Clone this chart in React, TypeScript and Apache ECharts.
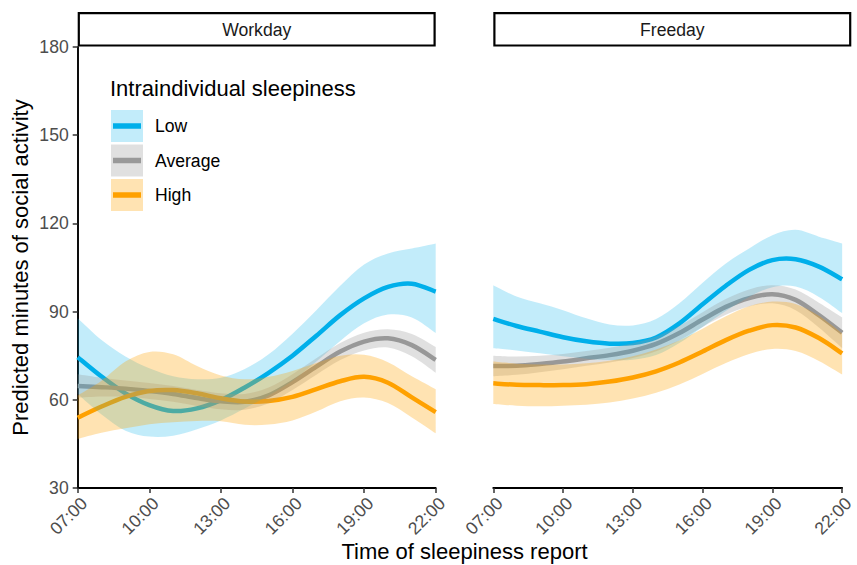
import React, { useEffect, useRef } from "react";
import * as echarts from "echarts";

const hours = [7, 8, 9, 10, 11, 12, 13, 14, 15, 16, 17, 18, 19, 20, 21, 22];
const xTicks = [7, 10, 13, 16, 19, 22];
const yTicks = [30, 60, 90, 120, 150, 180];
const panels = ["Workday", "Freeday"];
const groups = ["Low", "Average", "High"];

// Workday
const wLowMid = [74.5, 67.9, 62.2, 58.2, 56.2, 57.1, 59.9, 64.2, 69.2, 75.0, 81.8, 88.8, 94.5, 98.4, 99.5, 96.8];
const wLowHi = [87.7, 80.3, 74.7, 70.7, 68.0, 67.0, 67.5, 70.5, 75.5, 82.5, 90.5, 98.8, 106.0, 109.8, 111.5, 113.2];
const wLowLo = [62.0, 55.0, 49.5, 47.5, 47.8, 50.0, 53.0, 57.0, 61.5, 66.5, 73.0, 80.0, 86.0, 89.0, 88.0, 82.7];
const wAvgMid = [64.7, 64.3, 63.8, 63.0, 62.0, 60.6, 59.5, 59.3, 61.5, 66.0, 71.3, 76.4, 79.8, 80.9, 78.6, 73.6];
const wAvgHi = [68.7, 67.5, 66.6, 65.7, 64.7, 63.3, 62.2, 62.0, 64.2, 68.7, 74.1, 79.3, 82.8, 84.0, 82.4, 78.0];
const wAvgLo = [60.7, 61.1, 61.0, 60.3, 59.3, 57.9, 56.8, 56.6, 58.8, 63.3, 68.5, 73.5, 76.8, 77.8, 74.8, 69.2];
const wHighMid = [53.9, 57.7, 61.0, 63.0, 63.3, 62.2, 60.5, 59.4, 59.6, 61.0, 63.6, 66.3, 67.8, 65.8, 60.8, 55.8];
const wHighHi = [61.5, 66.5, 73.0, 76.3, 75.5, 71.5, 68.3, 67.0, 67.8, 69.8, 72.5, 75.0, 75.3, 72.8, 68.0, 63.6];
const wHighLo = [46.7, 48.8, 50.3, 51.7, 52.4, 52.8, 52.7, 51.5, 51.6, 53.0, 56.0, 59.5, 60.8, 58.9, 54.0, 48.6];

// Freeday
const fLowMid = [87.5, 85.1, 83.2, 81.3, 79.9, 79.1, 79.3, 81.2, 86.0, 92.5, 98.8, 104.2, 107.5, 107.8, 105.3, 101.0];
const fLowHi = [99.0, 95.1, 92.8, 90.5, 87.7, 85.6, 85.3, 87.5, 92.8, 99.8, 106.4, 111.5, 116.0, 117.8, 115.5, 113.2];
const fLowLo = [77.5, 76.8, 75.8, 74.8, 74.0, 73.5, 73.6, 75.2, 79.3, 84.8, 90.2, 95.0, 98.3, 98.5, 95.0, 89.5];
const fAvgMid = [71.5, 71.6, 72.2, 73.0, 74.1, 75.2, 76.7, 79.0, 82.7, 87.3, 91.6, 94.6, 95.9, 94.0, 88.8, 82.8];
const fAvgHi = [75.0, 74.7, 75.0, 75.6, 76.6, 77.7, 79.2, 81.5, 85.2, 89.8, 94.3, 97.5, 99.0, 97.5, 93.0, 88.0];
const fAvgLo = [68.0, 68.5, 69.4, 70.4, 71.6, 72.7, 74.2, 76.5, 80.2, 84.8, 88.9, 91.7, 92.8, 90.5, 84.6, 77.6];
const fHighMid = [65.6, 65.1, 65.0, 65.0, 65.3, 66.2, 67.6, 69.7, 72.7, 76.4, 80.3, 83.5, 85.4, 84.6, 81.0, 75.8];
const fHighHi = [73.0, 72.3, 72.0, 72.0, 72.4, 73.3, 74.8, 77.1, 80.2, 84.2, 88.4, 91.8, 93.4, 92.6, 88.6, 82.6];
const fHighLo = [58.6, 58.0, 57.8, 58.0, 58.3, 59.1, 60.4, 62.4, 65.2, 68.8, 72.5, 75.6, 77.3, 76.6, 73.2, 68.6];

const panelData = [
  [
    { mid: wLowMid, hi: wLowHi, lo: wLowLo },
    { mid: wAvgMid, hi: wAvgHi, lo: wAvgLo },
    { mid: wHighMid, hi: wHighHi, lo: wHighLo },
  ],
  [
    { mid: fLowMid, hi: fLowHi, lo: fLowLo },
    { mid: fAvgMid, hi: fAvgHi, lo: fAvgLo },
    { mid: fHighMid, hi: fHighHi, lo: fHighLo },
  ],
];

const lineColors = ["#00AFEA", "#999999", "#FFA100"];
const bandColors = ["rgba(0,175,234,0.24)", "rgba(153,153,153,0.3)", "rgba(255,161,0,0.3)"];

const FONT = "'Liberation Sans', Arial, Helvetica, sans-serif";
const PL = [77.7, 493.3];
const PW = 358;
const TOP = 47;
const H = 441;

const fmt = (v: number) => (v < 10 ? "0" + v : "" + v) + ":00";

// smooth cubic path through pixel points (Catmull-Rom as Bezier)
function curveSegs(pts: number[][], start: boolean): string {
  let d = start ? `M${pts[0][0]},${pts[0][1]}` : `L${pts[0][0]},${pts[0][1]}`;
  const n = pts.length;
  for (let i = 0; i < n - 1; i++) {
    const p0 = pts[Math.max(0, i - 1)];
    const p1 = pts[i];
    const p2 = pts[i + 1];
    const p3 = pts[Math.min(n - 1, i + 2)];
    const c1x = p1[0] + (p2[0] - p0[0]) / 6;
    const c1y = p1[1] + (p2[1] - p0[1]) / 6;
    const c2x = p2[0] - (p3[0] - p1[0]) / 6;
    const c2y = p2[1] - (p3[1] - p1[1]) / 6;
    d += ` C${c1x},${c1y} ${c2x},${c2y} ${p2[0]},${p2[1]}`;
  }
  return d;
}

export default function App() {
  const ref = useRef<HTMLDivElement>(null);
  useEffect(() => {
    if (!ref.current) return;
    const chart = echarts.init(ref.current, undefined, { renderer: "svg" });
    const series: any[] = [];
    // lines first (underneath), then ribbons on top
    panelData.forEach((pd, p) => {
      pd.forEach((g, gi) => {
        series.push({
          type: "custom",
          name: groups[gi],
          xAxisIndex: p,
          yAxisIndex: p,
          data: hours.map((h, i) => [h, g.mid[i]]),
          encode: { x: 0, y: 1 },
          z: 2,
          renderItem: (params: any, api: any) => {
            if (params.dataIndex !== 0) return null;
            const pts = hours.map((h, i) => api.coord([h, g.mid[i]]));
            return {
              type: "path",
              shape: { pathData: curveSegs(pts, true) },
              style: { fill: "none", stroke: lineColors[gi], lineWidth: 4.5 },
            };
          },
        });
      });
    });
    panelData.forEach((pd, p) => {
      pd.forEach((g, gi) => {
        series.push({
          type: "custom",
          xAxisIndex: p,
          yAxisIndex: p,
          data: hours.map((h, i) => [h, g.lo[i], g.hi[i]]),
          encode: { x: 0, y: [1, 2] },
          z: 3,
          renderItem: (params: any, api: any) => {
            if (params.dataIndex !== 0) return null;
            const up = hours.map((h, i) => api.coord([h, g.hi[i]]));
            const dn = hours.map((h, i) => api.coord([h, g.lo[i]])).reverse();
            const d = curveSegs(up, true) + " " + curveSegs(dn, false) + " Z";
            return {
              type: "path",
              shape: { pathData: d },
              style: { fill: bandColors[gi], stroke: "none" },
            };
          },
        });
      });
    });

    const xAxisBase = (gi: number) => ({
      type: "value",
      gridIndex: gi,
      min: 7,
      max: 22,
      interval: 3,
      axisLine: { show: true, lineStyle: { color: "#000", width: 1.9 } },
      axisTick: { show: true, length: 5, lineStyle: { color: "#333", width: 1.5 } },
      axisLabel: {
        rotate: 45,
        fontSize: 17.6,
        color: "#4D4D4D",
        fontFamily: FONT,
        margin: 6,
        align: "right",
        verticalAlign: "top",
        formatter: (v: number) => fmt(v),
        showMinLabel: true,
        showMaxLabel: true,
      },
      splitLine: { show: false },
    });

    const graphic: any[] = [];
    panels.forEach((name, p) => {
      graphic.push({
        type: "rect",
        shape: { x: PL[p] + 1.1, y: 13.1, width: PW - 2.2, height: 32.4 },
        style: { fill: "#fff", stroke: "#000", lineWidth: 2.2 },
      });
      graphic.push({
        type: "text",
        x: PL[p] + PW / 2,
        y: 29.5,
        style: {
          text: name,
          fontSize: 17.6,
          fontFamily: FONT,
          fill: "#1A1A1A",
          align: "center",
          verticalAlign: "middle",
        },
      });
    });
    graphic.push({
      type: "text",
      x: 110,
      y: 88,
      style: {
        text: "Intraindividual sleepiness",
        fontSize: 22,
        fontFamily: FONT,
        fill: "#000",
        align: "left",
        verticalAlign: "middle",
      },
    });
    const keyY = [110, 144.5, 179];
    groups.forEach((g, gi) => {
      graphic.push({
        type: "rect",
        shape: { x: 111, y: keyY[gi], width: 32, height: 32 },
        style: { fill: bandColors[gi] },
        z: 10,
      });
      graphic.push({
        type: "line",
        shape: { x1: 113, y1: keyY[gi] + 16, x2: 141, y2: keyY[gi] + 16 },
        style: { stroke: lineColors[gi], lineWidth: 5.5 },
        z: 11,
      });
      graphic.push({
        type: "text",
        x: 155,
        y: keyY[gi] + 16,
        style: {
          text: g,
          fontSize: 17.6,
          fontFamily: FONT,
          fill: "#000",
          align: "left",
          verticalAlign: "middle",
        },
        z: 11,
      });
    });
    graphic.push({
      type: "text",
      x: (PL[0] + PL[1] + PW) / 2,
      y: 551,
      style: {
        text: "Time of sleepiness report",
        fontSize: 22,
        fontFamily: FONT,
        fill: "#000",
        align: "center",
        verticalAlign: "middle",
      },
    });
    graphic.push({
      type: "text",
      x: 20,
      y: TOP + H / 2,
      rotation: Math.PI / 2,
      style: {
        text: "Predicted minutes of social activity",
        fontSize: 22,
        fontFamily: FONT,
        fill: "#000",
        align: "center",
        verticalAlign: "middle",
      },
    });

    chart.setOption({
      animation: false,
      backgroundColor: "#fff",
      grid: [
        { left: PL[0], top: TOP, width: PW, height: H, containLabel: false },
        { left: PL[1], top: TOP, width: PW - 0.6, height: H, containLabel: false },
      ],
      xAxis: [xAxisBase(0), xAxisBase(1)],
      yAxis: [
        {
          type: "value",
          gridIndex: 0,
          min: yTicks[0],
          max: yTicks[yTicks.length - 1],
          interval: 30,
          axisLine: { show: true, lineStyle: { color: "#000", width: 1.9 } },
          axisTick: { show: true, length: 5, lineStyle: { color: "#333", width: 1.5 } },
          axisLabel: { fontSize: 17.6, color: "#4D4D4D", fontFamily: FONT, margin: 9 },
          splitLine: { show: false },
        },
        {
          type: "value",
          gridIndex: 1,
          min: yTicks[0],
          max: yTicks[yTicks.length - 1],
          interval: 30,
          axisLine: { show: false },
          axisTick: { show: false },
          axisLabel: { show: false },
          splitLine: { show: false },
        },
      ],
      series,
      graphic,
    });
    return () => chart.dispose();
  }, []);
  return (
    <div
      ref={ref}
      style={{ position: "fixed", left: 0, top: 0, width: 857, height: 565, background: "#fff" }}
    />
  );
}
